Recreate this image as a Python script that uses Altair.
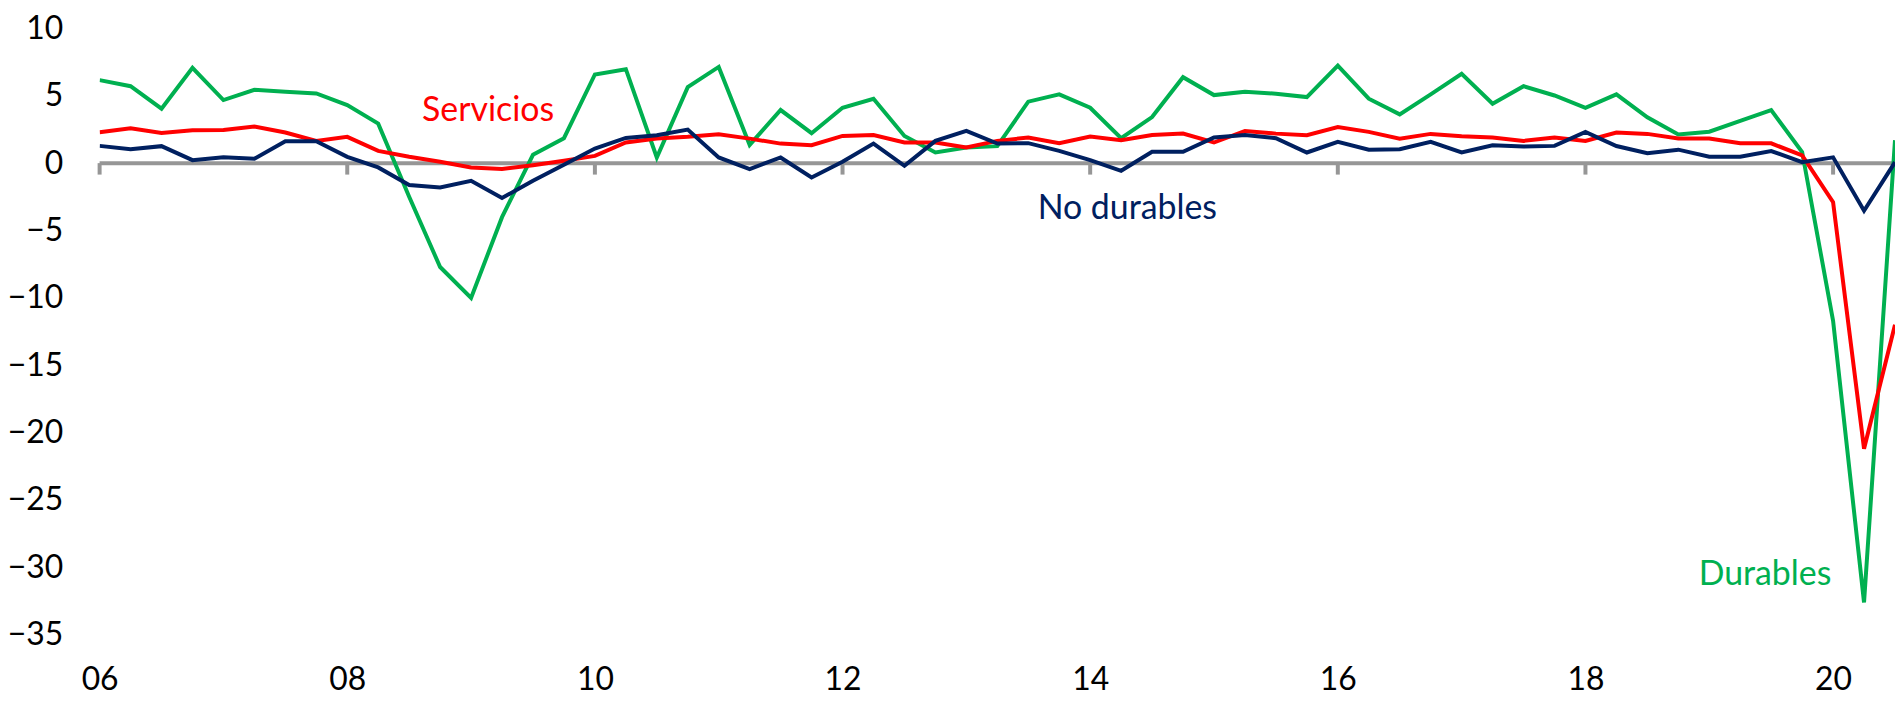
import altair as alt
import pandas as pd

# Quarterly data, 2006Q1 .. 2020Q3 (year-on-year % change)
durables = [6.16, 5.71, 4.04, 7.07, 4.68, 5.44, 5.30, 5.17,
            4.31, 2.93, -2.50, -7.71, -10.0, -4.01, 0.62, 1.85,
            6.58, 6.97, 0.42, 5.64, 7.14, 1.35, 3.94, 2.22,
            4.11, 4.78, 2.02, 0.79, 1.16, 1.26, 4.56, 5.10,
            4.11, 1.85, 3.42, 6.38, 5.05, 5.30, 5.15, 4.90,
            7.24, 4.78, 3.62, 5.10, 6.63, 4.41, 5.71, 5.02,
            4.11, 5.10, 3.40, 2.13, 2.33, 3.13, 3.93, 0.83,
            -11.7, -32.6, 1.70]
servicios = [2.29, 2.59, 2.24, 2.44, 2.46, 2.71, 2.27, 1.65,
             1.95, 0.91, 0.47, 0.10, -0.32, -0.44, -0.15, 0.17,
             0.54, 1.53, 1.82, 1.95, 2.14, 1.82, 1.45, 1.33,
             2.02, 2.09, 1.53, 1.53, 1.16, 1.65, 1.90, 1.48,
             1.97, 1.70, 2.09, 2.19, 1.53, 2.39, 2.19, 2.07,
             2.68, 2.32, 1.82, 2.17, 2.00, 1.90, 1.65, 1.90,
             1.65, 2.27, 2.17, 1.83, 1.83, 1.47, 1.47, 0.57,
             -2.90, -21.2, -12.0]
no_durables = [1.28, 1.03, 1.26, 0.22, 0.44, 0.32, 1.63, 1.63,
               0.47, -0.32, -1.63, -1.80, -1.31, -2.59, -1.31, -0.12,
               1.08, 1.87, 2.07, 2.49, 0.42, -0.44, 0.42, -1.06,
               0.10, 1.45, -0.20, 1.65, 2.39, 1.45, 1.48, 0.91,
               0.22, -0.57, 0.84, 0.84, 1.90, 2.09, 1.85, 0.79,
               1.58, 0.99, 1.03, 1.58, 0.79, 1.33, 1.23, 1.28,
               2.32, 1.27, 0.73, 1.00, 0.47, 0.47, 0.90, 0.07,
               0.43, -3.53, 0.07]

year_labels = ["06", "08", "10", "12", "14", "16", "18", "20"]
y_ticks = [10, 5, 0, -5, -10, -15, -20, -25, -30, -35]

# annotation labels (text, quarter index, value)
label_text = ["Servicios", "No durables", "Durables"]
label_q = [12.55, 33.2, 53.8]
label_v = [3.85, -3.4, -30.6]

GREEN = "#00B050"
RED = "#FF0000"
NAVY = "#002060"
GRAY = "#969696"
FONT = "Lato"

n = len(durables)
idx = list(range(n))
tick_idx = [8 * k for k in range(len(year_labels))]

W, H = 1803, 609
x_max = n - 1

xscale = alt.Scale(domain=[0, x_max], nice=False, zero=False)
yscale = alt.Scale(domain=[-35, 10], nice=False, zero=False)

label_expr = "[" + ",".join("'%s'" % s for s in year_labels) + "][round(datum.value/8)]"

x_axis = alt.Axis(values=tick_idx, labelExpr=label_expr, domain=False, ticks=False,
                  tickSize=0, grid=False, title=None, labelFlush=False, labelOverlap=False,
                  labelPadding=55, labelBaseline="alphabetic", labelFontSize=32,
                  labelFont=FONT, labelColor="#000000")
y_axis = alt.Axis(values=y_ticks, domain=False, ticks=False, tickSize=0, grid=False,
                  title=None, labelPadding=37, labelFontSize=32, labelFont=FONT,
                  labelColor="#000000")

base_df = pd.DataFrame({"q": idx, "Durables": durables, "Servicios": servicios,
                        "No durables": no_durables})

zero_line = alt.Chart(base_df).mark_rule(color=GRAY, strokeWidth=4).encode(
    x=alt.X("q:Q", scale=xscale, axis=x_axis, aggregate="min"),
    x2=alt.value(W),
    y=alt.datum(0, scale=yscale, axis=y_axis),
)

ticks_df = pd.DataFrame({"q": tick_idx})
tick_marks = alt.Chart(ticks_df).mark_rule(color=GRAY, strokeWidth=4).encode(
    x=alt.X("q:Q", scale=xscale, axis=x_axis),
    y=alt.datum(0, scale=yscale, axis=y_axis),
    y2=alt.datum(-0.85),
)

def series_line(col, color):
    return alt.Chart(base_df).mark_line(color=color, strokeWidth=4, clip=True,
                                        strokeJoin="miter").encode(
        x=alt.X("q:Q", scale=xscale, axis=x_axis),
        y=alt.Y(f"{col}:Q", scale=yscale, axis=y_axis),
    )

lines = [series_line("Durables", GREEN), series_line("Servicios", RED),
         series_line("No durables", NAVY)]

lab_df = pd.DataFrame({"text": label_text, "q": label_q, "v": label_v,
                       "c": [RED, NAVY, GREEN]})
labels = alt.Chart(lab_df).mark_text(font=FONT, fontSize=34, align="center",
                                     baseline="middle").encode(
    x=alt.X("q:Q", scale=xscale, axis=x_axis),
    y=alt.Y("v:Q", scale=yscale, axis=y_axis),
    text="text:N",
    color=alt.Color("c:N", scale=None, legend=None),
)

chart = alt.layer(zero_line, tick_marks, *lines, labels).properties(
    width=W, height=H,
    background="white",
    autosize=alt.AutoSizeParams(type="none"),
    padding={"left": 92, "top": 19, "right": 0, "bottom": 60},
).configure_view(strokeWidth=0, stroke=None).configure_axis(
    domain=False, ticks=False, grid=False
)

chart.save("out.html", embed_options={"renderer": "svg", "actions": False})
